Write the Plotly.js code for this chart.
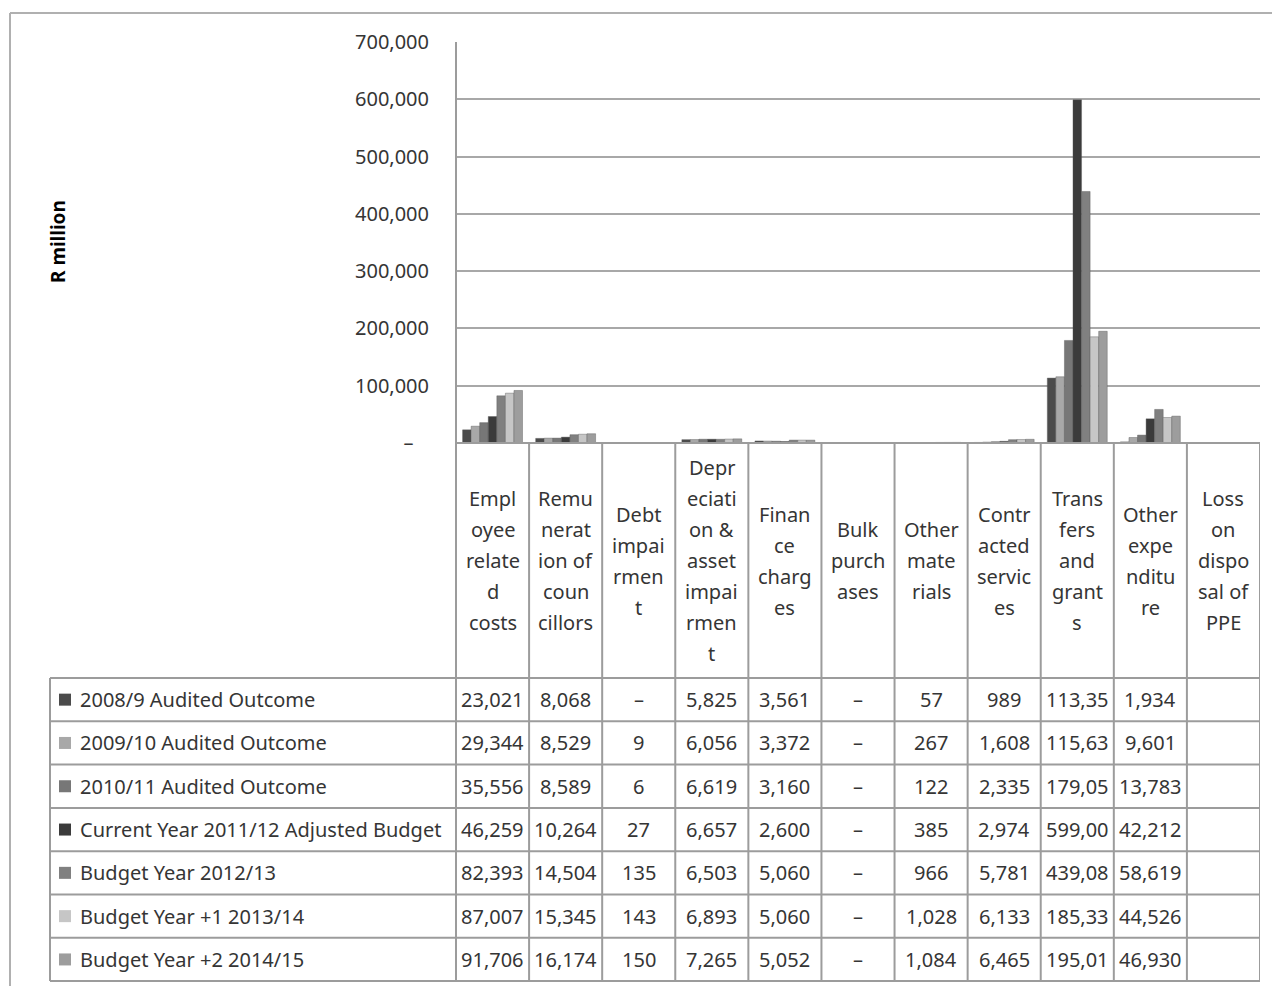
<!DOCTYPE html>
<html>
<head>
<meta charset="utf-8">
<script src="https://cdn.plot.ly/plotly-3.0.1.min.js"></script>
<style>
  html, body { margin: 0; padding: 0; background: #ffffff; }
  #chart { width: 1272px; height: 986px; }
</style>
</head>
<body>
<div id="chart"></div>
<script>
// ---------------- DATA ----------------
const categoryLabels = [
  "Empl<br>oyee<br>relate<br>d<br>costs",
  "Remu<br>nerat<br>ion of<br>coun<br>cillors",
  "Debt<br>impai<br>rmen<br>t",
  "Depr<br>eciati<br>on &<br>asset<br>impai<br>rmen<br>t",
  "Finan<br>ce<br>charg<br>es",
  "Bulk<br>purch<br>ases",
  "Other<br>mate<br>rials",
  "Contr<br>acted<br>servic<br>es",
  "Trans<br>fers<br>and<br>grant<br>s",
  "Other<br>expe<br>nditu<br>re",
  "Loss<br>on<br>dispo<br>sal of<br>PPE"
];

const seriesNames = [
  "2008/9 Audited Outcome",
  "2009/10 Audited Outcome",
  "2010/11 Audited Outcome",
  "Current Year 2011/12 Adjusted Budget",
  "Budget Year 2012/13",
  "Budget Year +1 2013/14",
  "Budget Year +2 2014/15"
];

const outcome2008 = [23021, 8068, 0, 5825, 3561, 0, 57, 989, 113350, 1934, null];
const outcome2009 = [29344, 8529, 9, 6056, 3372, 0, 267, 1608, 115630, 9601, null];
const outcome2010 = [35556, 8589, 6, 6619, 3160, 0, 122, 2335, 179050, 13783, null];
const adjusted2011 = [46259, 10264, 27, 6657, 2600, 0, 385, 2974, 599000, 42212, null];
const budget2012 = [82393, 14504, 135, 6503, 5060, 0, 966, 5781, 439080, 58619, null];
const budget2013 = [87007, 15345, 143, 6893, 5060, 0, 1028, 6133, 185330, 44526, null];
const budget2014 = [91706, 16174, 150, 7265, 5052, 0, 1084, 6465, 195010, 46930, null];

const yTickVals = [0, 100000, 200000, 300000, 400000, 500000, 600000, 700000];
const yTickText = ["–   ", "100,000", "200,000", "300,000", "400,000", "500,000", "600,000", "700,000"];

// ---------------- STYLE ----------------
const seriesData = [outcome2008, outcome2009, outcome2010, adjusted2011, budget2012, budget2013, budget2014];
const seriesColors = ["#4b4b4b", "#a8a8a8", "#777777", "#3b3b3b", "#808080", "#c6c6c6", "#9d9d9d"];
const FONT = "Noto Sans, Open Sans, Liberation Sans, sans-serif";
const TXT = "#353535";
const LINE = "#9c9c9c";
const W = 1272, H = 986;
const px = p => p / W;
const py = p => 1 - p / H;

const plotLeft = 456, plotRight = 1260, plotTop = 42, plotBottom = 443;
const headerBottom = 678, rowH = 43.3, tableLeft = 50;
const nRows = seriesNames.length;
const tableBottom = headerBottom + nRows * rowH;

function fmt(v) {
  if (v === null || v === undefined) return "";
  if (v === 0) return "–";
  let s = v.toLocaleString("en-US");
  if (s.length > 6) s = s.slice(0, 6); // text clipped by narrow cell
  return s;
}

// ---------------- TRACES ----------------
const xIdx = categoryLabels.map((_, i) => i);
const traces = seriesData.map((vals, k) => ({
  type: "bar",
  name: seriesNames[k],
  x: xIdx,
  y: vals,
  marker: { color: seriesColors[k], line: { color: "#555555", width: 0.4 } },
  showlegend: false,
  hoverinfo: "skip"
}));

// ---------------- SHAPES ----------------
const shapes = [];
const ln = (x0, y0, x1, y1, xref, w, c) => shapes.push({
  type: "line", xref: xref || "paper", yref: "paper",
  x0, y0, x1, y1, line: { color: c || LINE, width: w || 2 }
});

// outer chart frame (cropped right and bottom)
ln(px(10), py(13), px(1272), py(13), "paper", 2, "#b0b0b0");
ln(px(10), py(13), px(10), py(986), "paper", 2, "#b0b0b0");

// axis base / table top
ln(px(plotLeft), py(plotBottom), px(plotRight), py(plotBottom));
// left axis line through table
ln(px(plotLeft), py(plotTop), px(plotLeft), py(tableBottom));
// category boundaries
for (let i = 0; i < categoryLabels.length; i++) {
  ln(i + 0.5, py(plotBottom), i + 0.5, py(tableBottom), "x");
}
// legend column left line
ln(px(tableLeft), py(headerBottom), px(tableLeft), py(tableBottom));
// row lines
for (let r = 0; r <= nRows; r++) {
  const yy = headerBottom + r * rowH;
  ln(px(tableLeft), py(yy), px(plotRight), py(yy));
}
// legend keys
seriesNames.forEach((_, k) => {
  const cy = headerBottom + (k + 0.5) * rowH;
  shapes.push({
    type: "rect", xref: "paper", yref: "paper",
    x0: px(59), x1: px(71), y0: py(cy - 6), y1: py(cy + 6),
    fillcolor: seriesColors[k], line: { width: 0 }
  });
});

// ---------------- ANNOTATIONS ----------------
const annotations = [];
// y axis title
annotations.push({
  text: "<b>R million</b>", xref: "paper", yref: "paper",
  x: px(58), y: py(241), textangle: -90, showarrow: false,
  xanchor: "center", yanchor: "middle",
  font: { family: FONT, size: 19, color: "#000000" }
});
// category header labels, line by line
const headerMid = (plotBottom + headerBottom) / 2;
const lineGap = 31;
categoryLabels.forEach((lab, i) => {
  const parts = lab.split("<br>");
  parts.forEach((t, j) => {
    const cy = headerMid + (j - (parts.length - 1) / 2) * lineGap;
    annotations.push({
      text: t, xref: "x", yref: "paper", x: i, y: py(cy),
      showarrow: false, xanchor: "center", yanchor: "middle",
      font: { family: FONT, size: 20, color: TXT }
    });
  });
});
// legend labels and values
seriesNames.forEach((name, k) => {
  const cy = headerBottom + (k + 0.5) * rowH;
  annotations.push({
    text: name, xref: "paper", yref: "paper", x: px(78), y: py(cy),
    showarrow: false, xanchor: "left", yanchor: "middle",
    font: { family: FONT, size: 20, color: TXT }
  });
  seriesData[k].forEach((v, i) => {
    const s = fmt(v);
    if (!s) return;
    annotations.push({
      text: s, xref: "x", yref: "paper", x: i, y: py(cy),
      showarrow: false, xanchor: "center", yanchor: "middle",
      font: { family: FONT, size: 20, color: TXT }
    });
  });
});

// ---------------- LAYOUT ----------------
const layout = {
  width: W, height: H,
  margin: { l: 0, r: 0, t: 0, b: 0 },
  paper_bgcolor: "#ffffff", plot_bgcolor: "#ffffff",
  barmode: "group", bargap: 0.18, bargroupgap: 0,
  showlegend: false,
  xaxis: {
    domain: [px(plotLeft), px(plotRight)],
    range: [-0.5, categoryLabels.length - 0.5],
    showticklabels: false, showgrid: false, zeroline: false, showline: false,
    fixedrange: true
  },
  yaxis: {
    domain: [py(plotBottom), py(plotTop)],
    range: [0, 700000],
    tickvals: yTickVals, ticktext: yTickText,
    tickfont: { family: FONT, size: 20, color: TXT },
    ticks: "", ticklabelstandoff: 26,
    showgrid: true, gridcolor: "#a8a8a8", gridwidth: 2,
    zeroline: false, showline: false, fixedrange: true
  },
  shapes, annotations
};

Plotly.newPlot("chart", traces, layout, { staticPlot: true, displayModeBar: false });
</script>
</body>
</html>
